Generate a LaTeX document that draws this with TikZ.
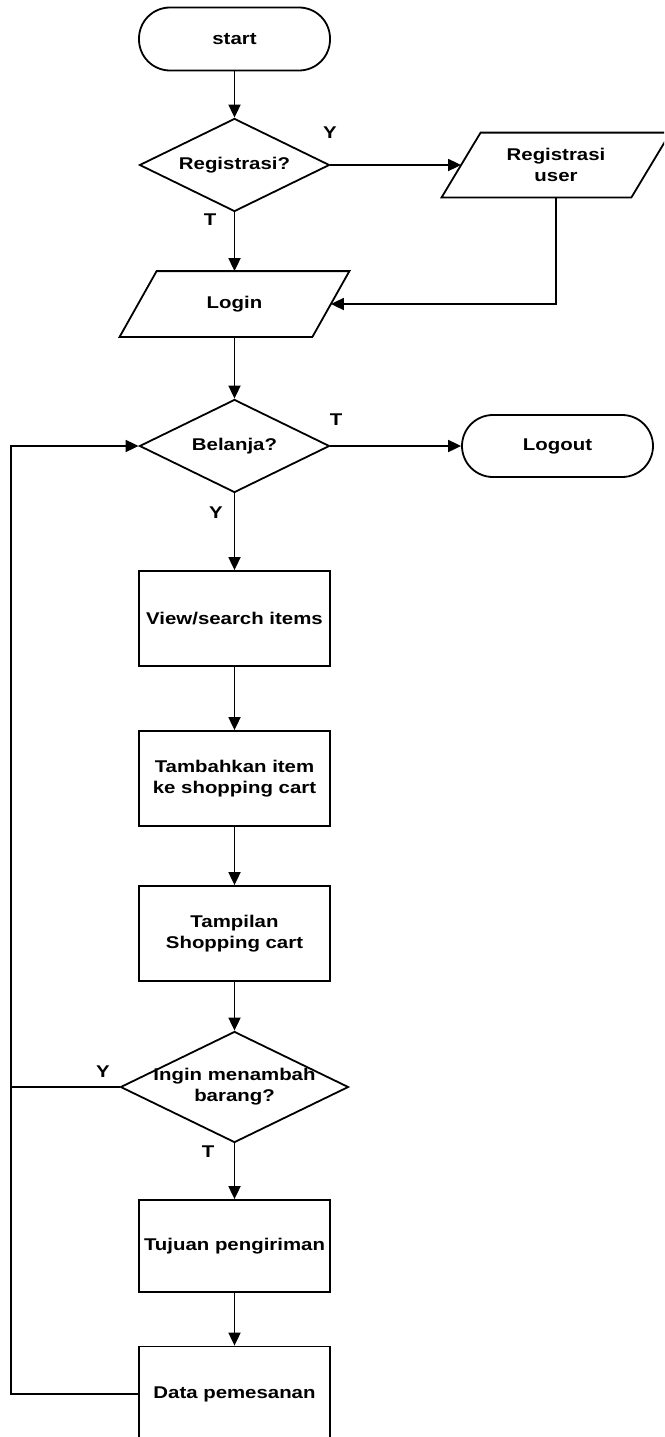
\documentclass[tikz,border=0pt]{standalone}
\usepackage{fontspec}
\setmainfont{Liberation Sans}[FakeStretch=1.2]
\usetikzlibrary{arrows.meta,shapes.geometric}

% outline of an input/output node (parallelogram) around a named node
\newcommand{\ioframe}[2]{%
    \draw ([xshift=#2]#1.north west) -- ([xshift=#2]#1.north east)
          -- ([xshift=-#2]#1.south east) -- ([xshift=-#2]#1.south west) -- cycle;}

\begin{document}
\begin{tikzpicture}
    [
        x=1pt, y=-1pt,
        line width=1.8pt,
        font=\fontsize{17}{21}\selectfont\bfseries,
        flow/.style={-{Triangle[length=13pt,width=12pt]}},
        terminal/.style={rectangle, draw, rounded corners=31pt, minimum width=191pt, minimum height=63pt},
        process/.style={rectangle, draw, minimum width=191pt, minimum height=95pt, align=center},
        decision/.style={diamond, draw, aspect=2, inner sep=0pt, minimum width=190pt, minimum height=93pt},
        decision wide/.style={decision, minimum width=228pt, minimum height=111pt},
        io/.style={rectangle, minimum width=191pt, minimum height=64pt, align=center},
        answer/.style={inner sep=0pt}
    ]
    \path [use as bounding box, clip] (0,0) rectangle (664,1437);

    \node (start) [terminal] at (234.5,39) {start};
    \node (reg) [decision, below of=start, node distance=126pt] {Registrasi?};
    \node (reg user) [io, right of=reg, node distance=321.5pt, minimum width=188pt, minimum height=63pt]
          {Registrasi\\user};
    \node (login) [io, below of=reg, node distance=139pt] {Login};
    \node (belanja) [decision, below of=login, node distance=142pt] {Belanja?};
    \node (logout) [terminal, right of=belanja, node distance=323pt, minimum height=62pt] {Logout};
    \node (view) [process, below of=belanja, node distance=172.5pt] {View/search items};
    \node (tambah) [process, below of=view, node distance=160pt] {Tambahkan item\\ke shopping cart};
    \node (tampil) [process, below of=tambah, node distance=155pt] {Tampilan\\Shopping cart};
    \node (ingin) [decision wide, below of=tampil, node distance=153.5pt,
          label={[align=center]center:Ingin menambah\\barang?}] {};
    \node (tujuan) [process, below of=ingin, node distance=159pt, minimum height=92pt] {Tujuan pengiriman};
    \node (data) [process, below of=tujuan, node distance=148pt] {Data pemesanan};

    \ioframe{reg user}{19.5pt}
    \ioframe{login}{18.5pt}

    % jawaban Y / T
    \node (reg yes)     [answer] at (330,133)  {Y};
    \node (reg no)      [answer] at (210,220)  {T};
    \node (belanja no)  [answer] at (336,420)  {T};
    \node (belanja yes) [answer] at (216,513)  {Y};
    \node (ingin yes)   [answer] at (103,1072) {Y};
    \node (ingin no)    [answer] at (208,1152) {T};

    \coordinate (loop top) at (11,446);

    \path
    (start)   edge [flow] (reg)
    (reg)     edge [flow] (reg user)
    (reg)     edge [flow] (login)
    (login)   edge [flow] (belanja)
    (belanja) edge [flow] (logout)
    (belanja) edge [flow] (view)
    (view)    edge [flow] (tambah)
    (tambah)  edge [flow] (tampil)
    (tampil)  edge [flow] (ingin)
    (ingin)   edge [flow] (tujuan)
    (tujuan)  edge [flow] (data)
    ;

    \draw [flow] (reg user.south) |- (login.east);
    \draw [flow] (data.west) -| (loop top) -- (belanja.west);
    \draw (ingin.west) -- (ingin.west -| loop top);
\end{tikzpicture}
\end{document}
